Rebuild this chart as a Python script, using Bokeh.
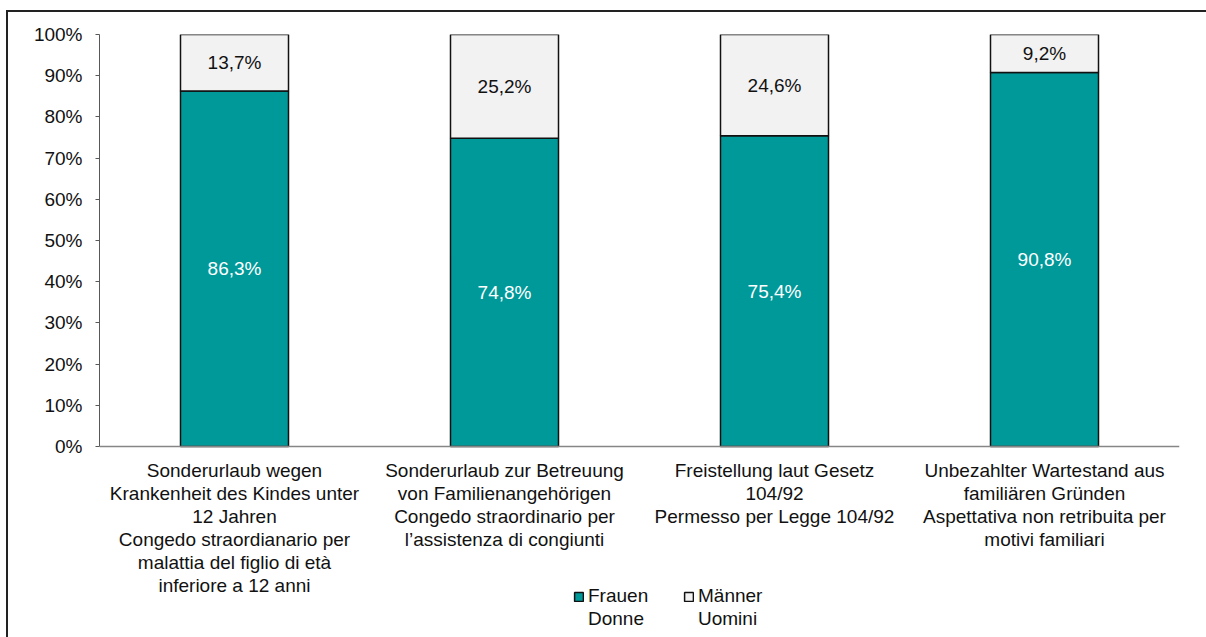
from bokeh.plotting import figure
from bokeh.models import (ColumnDataSource, FactorRange, Range1d, FixedTicker, LabelSet,
                          Legend, LegendItem, Span)
from bokeh.core.properties import value
from bokeh.embed import file_html
from bokeh.resources import INLINE

categories = [
    "Sonderurlaub wegen\nKrankenheit des Kindes unter\n12 Jahren\nCongedo straordianario per\nmalattia del figlio di età\ninferiore a 12 anni",
    "Sonderurlaub zur Betreuung\nvon Familienangehörigen\nCongedo straordinario per\nl’assistenza di congiunti",
    "Freistellung laut Gesetz\n104/92\nPermesso per Legge 104/92",
    "Unbezahlter Wartestand aus\nfamiliären Gründen\nAspettativa non retribuita per\nmotivi familiari",
]
frauen = [86.3, 74.8, 75.4, 90.8]
maenner = [13.7, 25.2, 24.6, 9.2]
series_de = ["Frauen", "Männer"]
series_it = ["Donne", "Uomini"]
y_ticks = [0, 10, 20, 30, 40, 50, 60, 70, 80, 90, 100]

TEAL = "#009999"
LIGHT = "#F2F2F2"
FONT = "Liberation Sans"
FS = "19px"
TXT = "#111111"
LINE_STEP = 23

def fmt(v):
    return f"{v:.1f}%".replace(".", ",")

src = ColumnDataSource(dict(
    cat=categories,
    f=[v / 100 for v in frauen],
    m=[v / 100 for v in maenner],
    f_mid=[v / 200 for v in frauen],
    m_mid=[(a + b / 2) / 100 for a, b in zip(frauen, maenner)],
    f_lab=[fmt(v) for v in frauen],
    m_lab=[fmt(v) for v in maenner],
))

# one row per line of each category label, so every line is centred on its bar
lab_cat, lab_txt, lab_off = [], [], []
for c in categories:
    for i, line in enumerate(c.split("\n")):
        lab_cat.append(c)
        lab_txt.append(line)
        lab_off.append(-24 - LINE_STEP * i)
cat_src = ColumnDataSource(dict(cat=lab_cat, txt=lab_txt, off=lab_off))

# frame extends below the 0% line so that category labels and legend live inside it
p = figure(x_range=FactorRange(*categories, range_padding=0), y_range=Range1d(-0.4636, 1),
           width=1206, height=637, output_backend="svg", toolbar_location=None,
           x_axis_location=None,
           min_border_left=99, min_border_right=27, min_border_top=34, min_border_bottom=0)
p.outline_line_color = None
p.xgrid.visible = False
p.ygrid.visible = False
p.background_fill_color = "white"
p.border_fill_alpha = 0
p.styles = {
    "background": "linear-gradient(#222,#222) 6px 11px / 2px 100% no-repeat, "
                  "linear-gradient(#222,#222) 6px 10px / 100% 2px no-repeat, white"
}

rs = p.vbar_stack(["f", "m"], x="cat", width=0.4, source=src,
                  fill_color=[TEAL, LIGHT], line_color=TXT, line_width=1.5)
# invisible stand-ins used only for the second (Italian) legend line
empty = ColumnDataSource(dict(x=[], top=[]))
ghost = p.vbar(x="x", top="top", width=0.4, source=empty, fill_alpha=0, line_alpha=0)

p.add_layout(LabelSet(x="cat", y="f_mid", text="f_lab", source=src, text_align="center",
                      text_baseline="middle", text_color="white", text_font_size=FS,
                      text_font=value(FONT)))
p.add_layout(LabelSet(x="cat", y="m_mid", text="m_lab", source=src, text_align="center",
                      text_baseline="middle", text_color=TXT, text_font_size=FS,
                      text_font=value(FONT)))

# y axis
p.yaxis.ticker = FixedTicker(ticks=[t / 100 for t in y_ticks])
p.yaxis.major_label_overrides = {t / 100: f"{t}%" for t in y_ticks}
p.yaxis.bounds = (0, 1)
p.yaxis.major_label_text_font = FONT
p.yaxis.major_label_text_font_size = FS
p.yaxis.major_label_text_color = TXT
p.yaxis.axis_line_color = "#595959"
p.yaxis.major_tick_line_color = "#595959"
p.yaxis.major_tick_out = 4
p.yaxis.major_tick_in = 0
p.yaxis.minor_tick_line_color = None
p.yaxis.major_label_standoff = 13

# category axis line and labels
p.add_layout(Span(location=0, dimension="width", line_color="#868686", line_width=1.5))
p.add_layout(LabelSet(x="cat", y=0, y_offset="off", text="txt", source=cat_src,
                      text_align="center", text_baseline="middle", text_color=TXT,
                      text_font_size=FS, text_font=value(FONT)))

legend_kw = dict(orientation="horizontal", padding=0, margin=0, spacing=31,
                 glyph_width=11, glyph_height=11, label_standoff=4, label_width=64,
                 border_line_alpha=0, background_fill_alpha=0,
                 label_text_font=FONT, label_text_font_size=FS, label_text_color=TXT)
legend1 = Legend(items=[LegendItem(label=series_de[0], renderers=[rs[0]]),
                        LegendItem(label=series_de[1], renderers=[rs[1]])],
                 location=(474, 30), **legend_kw)
legend2 = Legend(items=[LegendItem(label=series_it[0], renderers=[ghost]),
                        LegendItem(label=series_it[1], renderers=[ghost])],
                 location=(474, 7), **legend_kw)
p.add_layout(legend1, "center")
p.add_layout(legend2, "center")

open("out.html", "w").write(file_html(p, INLINE))
